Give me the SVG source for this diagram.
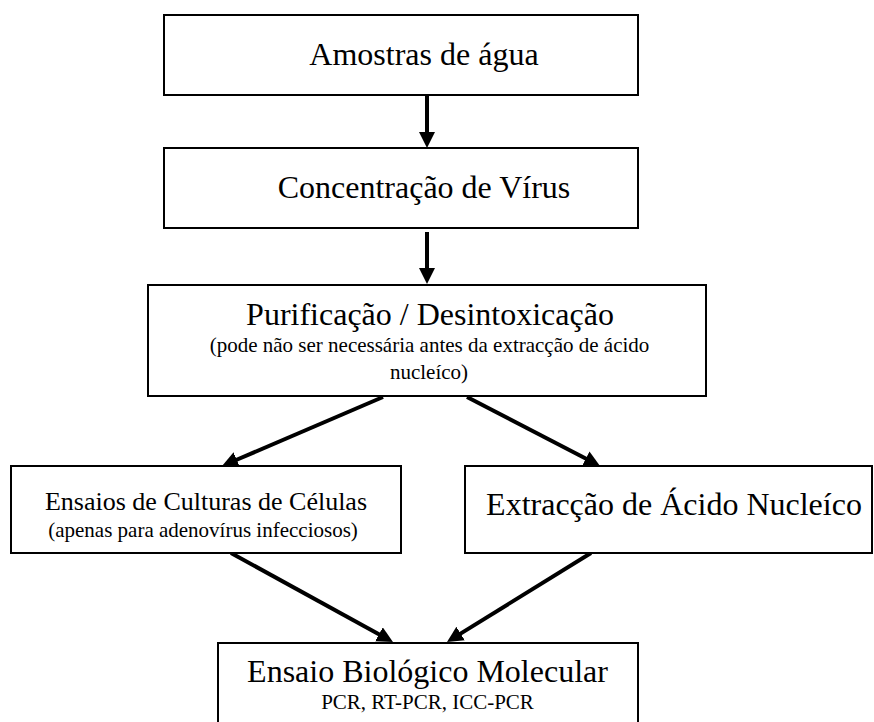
<svg xmlns="http://www.w3.org/2000/svg" width="874" height="722" viewBox="0 0 874 722">
<style>
.box{fill:#fff;stroke:#000;stroke-width:2}
.t{font-family:"Liberation Serif","Times New Roman",serif;fill:#000;text-anchor:middle}
.big{font-size:32px}
.mid{font-size:26px}
.sm{font-size:21px}
.ar{stroke:#000;stroke-width:4;fill:none;marker-end:url(#ah)}
</style>
<defs>
<marker id="ah" viewBox="0 0 16 16" refX="2" refY="8" markerWidth="16" markerHeight="16" markerUnits="userSpaceOnUse" orient="auto">
<path d="M0,0 L16,8 L0,16 z" fill="#000"/>
</marker>
</defs>
<rect width="874" height="722" fill="#fff"/>
<g id="connectors">
<line class="ar" x1="427" y1="96" x2="427" y2="134"/>
<line class="ar" x1="427" y1="232" x2="427" y2="270"/>
<line class="ar" x1="383" y1="397" x2="234.9" y2="460.5"/>
<line class="ar" x1="467" y1="397" x2="587.6" y2="459.5"/>
<line class="ar" x1="231" y1="553" x2="380.7" y2="635.3"/>
<line class="ar" x1="591" y1="553" x2="458.9" y2="634.6"/>
</g>
<g id="n1">
<rect class="box" x="164" y="15" width="474" height="80"/>
<text class="t big" x="424" y="65">Amostras de água</text>
</g>
<g id="n2">
<rect class="box" x="164" y="148" width="474" height="80"/>
<text class="t big" x="424" y="198">Concentração de Vírus</text>
</g>
<g id="n3">
<rect class="box" x="148" y="285" width="558" height="111"/>
<text class="t big" x="430" y="325">Purificação / Desintoxicação</text>
<text class="t sm" x="429.5" y="352">(pode não ser necessária antes da extracção de ácido</text>
<text class="t sm" x="429" y="379">nucleíco)</text>
</g>
<g id="n4">
<rect class="box" x="11" y="466" width="390" height="87"/>
<text class="t mid" x="206" y="510">Ensaios de Culturas de Células</text>
<text class="t sm" x="203" y="537">(apenas para adenovírus infecciosos)</text>
</g>
<g id="n5">
<rect class="box" x="465" y="466" width="407" height="87"/>
<text class="t big" x="674" y="515">Extracção de Ácido Nucleíco</text>
</g>
<g id="n6">
<rect class="box" x="218" y="643" width="420" height="84"/>
<text class="t big" x="427.5" y="682">Ensaio Biológico Molecular</text>
<text class="t sm" x="427.5" y="709">PCR, RT-PCR, ICC-PCR</text>
</g>
</svg>
